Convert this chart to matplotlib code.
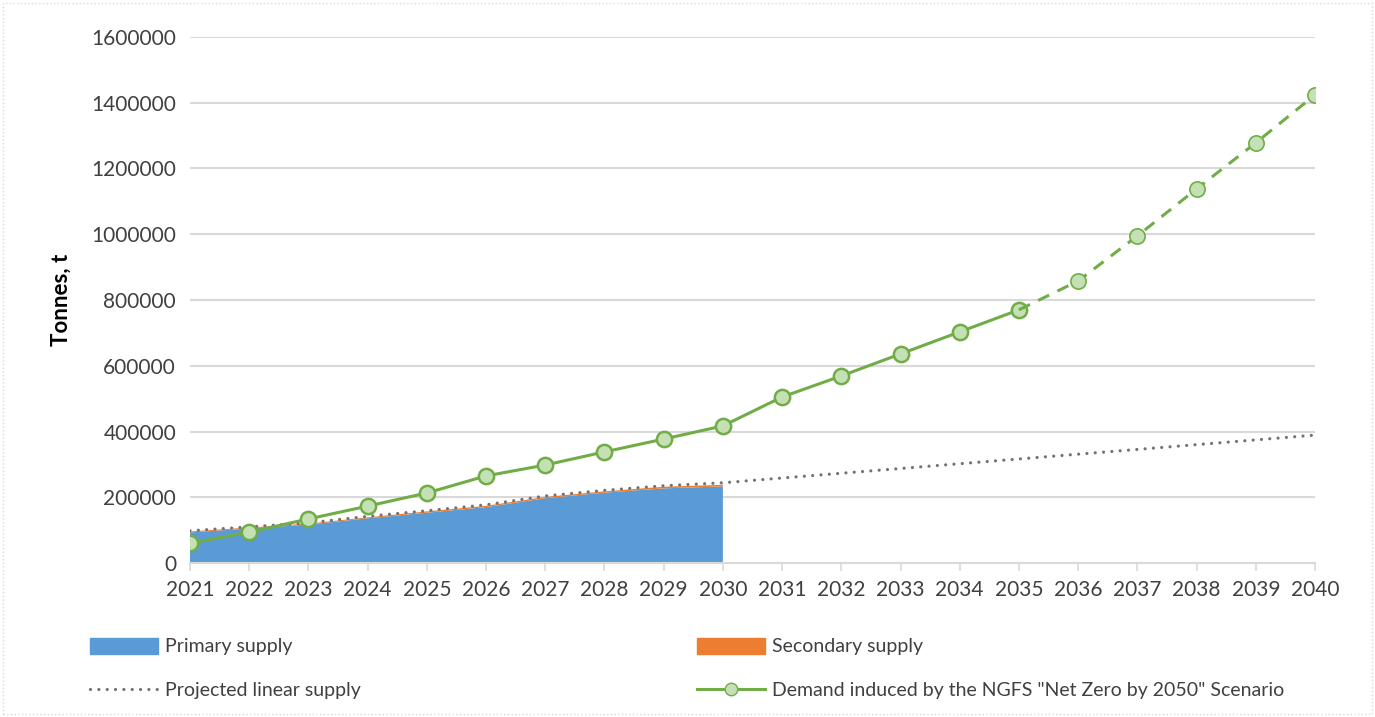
import matplotlib.pyplot as plt
from matplotlib.patches import Rectangle, Patch
from matplotlib.lines import Line2D
from matplotlib.ticker import FuncFormatter

plt.rcParams['font.family'] = ['Lato', 'DejaVu Sans']

# data
years = list(range(2021, 2041))
supply_years = list(range(2021, 2031))
primary = [93000, 105000, 117000, 136000, 153000, 170000, 197000, 214000, 227000, 233000]
secondary = [3000, 3000, 3000, 3000, 4000, 4000, 4000, 4000, 5000, 5000]
projected = [98000, 110000, 122000, 142000, 159000, 177000, 204000, 221000, 235000, 244000,
             258500, 273000, 287500, 302000, 316500, 331000, 345500, 360000, 374500, 389000]
demand = [60000, 94000, 134000, 173000, 213000, 265000, 298000, 338000, 377000, 417000,
          505000, 569000, 636000, 703000, 770000, 858000, 995000, 1138000, 1278000, 1424000]

txt = '#404040'
green = '#70AD47'
light_green = '#C5E0B4'
dots = (0, (0.01, 2.6))

fig = plt.figure(figsize=(13.75, 7.17), dpi=100)
ax = fig.add_axes([190/1375, 1-563/717, 1125/1375, 526/717])

# stacked area for supply
ax.stackplot(supply_years, primary, secondary, colors=['#5B9BD5', '#ED7D31'], linewidth=0, zorder=2)

# projected linear supply (dotted)
ax.plot(years, projected, color='#767171', lw=2.3, linestyle=dots,
        dash_capstyle='round', zorder=3)

# demand, solid to 2035 then dashed
i35 = years.index(2035)
ax.plot(years[:i35+1], demand[:i35+1], color=green, lw=2.2, marker='o', ms=11,
        mfc=light_green, mec=green, mew=1.8, zorder=4)
ax.plot(years[i35:], demand[i35:], color=green, lw=2.2, linestyle=(0, (4, 3)), zorder=4)
ax.plot(years[i35+1:], demand[i35+1:], linestyle='none', marker='o', ms=11,
        mfc=light_green, mec=green, mew=1.2, zorder=4)

ax.set_xlim(2021, 2040)
ax.set_ylim(0, 1600000)
ax.set_xticks(years)
ax.set_yticks(range(0, 1600001, 200000))
ax.yaxis.set_major_formatter(FuncFormatter(lambda v, p: '%d' % v))
ax.grid(axis='y', color='#D9D9D9', lw=1.5, zorder=0)
ax.set_axisbelow(True)
for s in ['left', 'top', 'right']:
    ax.spines[s].set_visible(False)
ax.spines['bottom'].set_color('#D9D9D9')
ax.spines['bottom'].set_linewidth(1.5)
ax.tick_params(axis='x', colors='#D9D9D9', length=6, width=1.2, direction='out', labelcolor=txt,
               labelsize=15, pad=6)
ax.tick_params(axis='y', length=0, labelcolor=txt, labelsize=15, pad=10)
ax.set_ylabel('Tonnes, t', fontsize=16, fontweight='bold', color='black', labelpad=14)

handles = [
    Patch(color='#5B9BD5', label='Primary supply'),
    Line2D([], [], color='#767171', lw=2.3, linestyle=dots, dash_capstyle='round',
           label='Projected linear supply'),
    Patch(color='#ED7D31', label='Secondary supply'),
    Line2D([], [], color=green, lw=2.2, marker='o', ms=9, mfc=light_green, mec=green,
           label='Demand induced by the NGFS "Net Zero by 2050" Scenario'),
]
fig.legend(handles=handles, ncol=2, loc='upper left', bbox_to_anchor=(72/1375, 1-620/717),
           frameon=False, fontsize=14, labelcolor=txt, handlelength=3.5, handleheight=0.9,
           handletextpad=0.4, columnspacing=17.25, labelspacing=1.35)

# light dotted border around the chart area
fig.patches.append(Rectangle((3/1375, 3/717), 1369/1375, 711/717, transform=fig.transFigure,
                             fill=False, edgecolor='#D9D9D9', lw=1, linestyle=':'))

fig.savefig('out.png', dpi=100)
